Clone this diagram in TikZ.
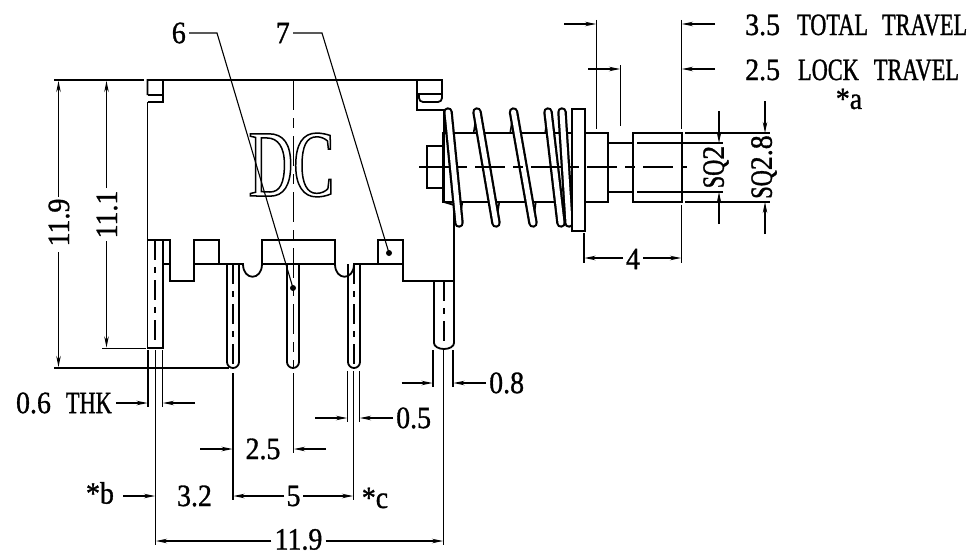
\documentclass[tikz,border=0pt]{standalone}
\usepackage{fontspec}
\usetikzlibrary{arrows.meta}
\newfontfamily\dimfont[FakeStretch=0.9,FakeBold=1]{Liberation Serif}
\newfontfamily\wordfont[FakeStretch=0.72,FakeBold=1]{Liberation Serif}
\newfontfamily\markfont[FakeStretch=0.65]{Liberation Serif}
\begin{document}
\begin{tikzpicture}[x=1pt, y=-1pt,
  part/.style = {draw, line width=1.8pt},
  thin line/.style = {draw, line width=1.1pt},
  dim/.style = {draw, line width=1.1pt, -{Stealth[length=11pt,width=4.5pt]}},
  axis/.style = {draw, line width=1.1pt, dash pattern=on 30pt off 8pt on 10pt off 8pt},
  pin axis/.style = {draw, line width=1.1pt, dash pattern=on 20pt off 7pt on 6pt off 7pt},
  label/.style = {inner sep=0pt, font=\fontsize{31}{31}\dimfont},
  coilout/.style = {draw, line width=9.5pt, line cap=round},
  coilin/.style = {draw=white, line width=5pt, line cap=round}]
\useasboundingbox (0,0) rectangle (976,551);
% body outline
\draw[part] (147.5,95) -- (147.5,80) -- (442,80) -- (442,98) arc (0:90:4) -- (423,102) arc (90:180:4) -- (419,94);
\draw[part] (147.5,95) -- (163,95) -- (163,80);
\draw[part] (147.5,102) -- (163,102) -- (163,95);
\draw[part] (417,94) -- (442,94);
\draw[part] (417,80) -- (417,110) -- (446,110);
\draw[part] (147.5,102) -- (147.5,348) -- (163,348) -- (163,240);
\draw[part] (147.5,240) -- (170,240) -- (170,281) -- (194,281) -- (194,240) -- (219,240) -- (219,264);
\draw[part] (163,264) -- (170,264);
\draw[part] (194,264) -- (243,264) .. controls (243,281) and (262,281) .. (262,264) -- (262,240) -- (335,240) -- (335,264) .. controls (335,281) and (354,281) .. (354,264) -- (378,264);
\draw[part] (262,264) -- (335,264);
\draw[part] (378,264) -- (378,240) -- (403,240) -- (403,264) -- (378,264);
\draw[part] (403,264) -- (403,281) -- (454,281);
\draw[part] (454,205) -- (454,343) arc (0:180:10 and 6) -- (434,281);
% pins
\foreach \px in {227,287,348}
  \draw[part] (\px,264) -- (\px,362) arc (180:0:6) -- ({\px+12},264);
\draw[pin axis] (155,240) -- (155,348);
\draw[pin axis] (233,264) -- (233,368);
\draw[pin axis] (354,264) -- (354,368);
\draw[pin axis] (444,281) -- (444,349);
\draw[axis] (293.5,80) -- (293.5,368);
% marking
\node[inner sep=0pt, font=\fontsize{95}{95}\markfont] (mark) at (291.5,165) {\special{pdf:code 1 Tr 1.5 w}DC\special{pdf:code 0 Tr}};
% spring, rear turns
\foreach \xa/\xb in {459/477,496/513.5,533/548}
  \draw[line width=1.6pt] (\xa,223) -- (\xb,112);
% plunger
\draw[part, fill=white] (443,133) rectangle (608,202);
\draw[part, fill=white] (427,146) rectangle (443,188);
\draw[part] (608,143) -- (633,143);
\draw[part] (608,192) -- (633,192);
\draw[part] (633,133) rectangle (682,202);
\draw[part] (444,110) -- (444,202) -- (454,205);
% spring, front turns
\foreach \xa/\xb in {448/459,477/496,513.5/533,548/561,562/569} {
  \draw[coilout] (\xa,112) -- (\xb,223);
  \draw[coilin] (\xa,112) -- (\xb,223);
}
\draw[part, fill=white] (572,109) rectangle (585,231);
\draw[axis] (419,167) -- (687,167);
% leaders
\node[label, anchor=east] (n6) at (186,33) {6};
\node[label, anchor=east] (n7) at (290,33) {7};
\coordinate (dot6) at (293,288);
\coordinate (dot7) at (389,253);
\draw[thin line] (n6.east) ++(3,0) -- (217,33) -- (dot6);
\draw[thin line] (n7.east) ++(3,0) -- (322,33) -- (dot7);
\fill (dot6) circle (3pt);
\fill (dot7) circle (3pt);
% height dimensions
\draw[thin line] (54,80) -- (144,80);
\draw[thin line] (102,348.5) -- (146,348.5);
\draw[thin line] (54,368) -- (229,368);
\node[label, rotate=90] (h119) at (59,222.5) {11.9};
\node[label, rotate=90] (h111) at (107,214.5) {11.1};
\draw[dim] (58.5,197) -- (58.5,81);
\draw[dim] (58.5,252) -- (58.5,367);
\draw[dim] (106.5,188) -- (106.5,81);
\draw[dim] (106.5,241) -- (106.5,347.5);
% pin dimensions
\draw[thin line] (148,350) -- (148,407);
\draw[thin line] (162.5,350) -- (162.5,407);
\draw[thin line] (155.5,350) -- (155.5,545);
\draw[thin line] (233,373) -- (233,500);
\draw[thin line] (293.5,373) -- (293.5,453);
\draw[thin line] (347.5,371) -- (347.5,422);
\draw[thin line] (359.5,371) -- (359.5,422);
\draw[thin line] (353.6,371) -- (353.6,500);
\draw[thin line] (433,350) -- (433,387);
\draw[thin line] (453,350) -- (453,387);
\draw[thin line] (443.7,350) -- (443.7,545);
\node[label, anchor=east] (thk) at (112,403) {0.6\hspace{15pt}{\wordfont THK}};
\draw[dim] (thk.east) ++(4,0) -- (147.5,403);
\draw[dim] (195,403) -- (163,403);
\node[label] (d25) at (263,449) {2.5};
\draw[dim] (200,449) -- (232.5,449);
\draw[dim] (326,449) -- (294,449);
\node[label, anchor=west] (d05) at (396,418) {0.5};
\draw[dim] (315,418) -- (347,418);
\draw[dim] (d05.west) ++(-3,0) -- (360,418);
\node[label, anchor=west] (d08) at (489,383) {0.8};
\draw[dim] (401.5,383) -- (432.5,383);
\draw[dim] (d08.west) ++(-3,0) -- (453.5,383);
\node[label] (db) at (100,493) {*b};
\node[label] (d32) at (194.5,496) {3.2};
\node[label] (d5) at (293.5,496) {5};
\node[label] (dc) at (375,498) {*c};
\draw[dim] (123,496) -- (155,496);
\draw[dim] (284,496) -- (233.5,496);
\draw[dim] (303,496) -- (353,496);
\node[label] (d119) at (298.5,539.5) {11.9};
\draw[dim] (d119.west) ++(-3,1.5) -- (156,541);
\draw[dim] (d119.east) ++(3,1.5) -- (443,541);
% travel dimensions
\draw[thin line] (596.5,20) -- (596.5,129);
\draw[thin line] (620.5,65) -- (620.5,126);
\draw[thin line] (681.5,20) -- (681.5,129);
\draw[thin line] (681.5,205) -- (681.5,263);
\draw[thin line] (584,233) -- (584,263);
\node[label, anchor=west] (total) at (745,25) {3.5\hspace{17pt}{\wordfont TOTAL\hspace{14pt}TRAVEL}};
\node[label, anchor=west] (lock) at (745,70) {2.5\hspace{18pt}{\wordfont LOCK\hspace{15pt}TRAVEL}};
\node[label] (stara) at (849,99) {*a};
\draw[dim] (564,24) -- (596,24);
\draw[dim] (715,24) -- (682,24);
\draw[dim] (588,69) -- (620,69);
\draw[dim] (715,69) -- (682,69);
\node[label] (d4) at (633,259) {4};
\draw[dim] (623,258) -- (584.5,258);
\draw[dim] (643,258) -- (681,258);
% square dimensions
\draw[thin line] (685,133) -- (770,133);
\draw[thin line] (685,202) -- (770,202);
\draw[thin line] (637,143) -- (723,143);
\draw[thin line] (637,192) -- (723,192);
\node[label, rotate=90] (sq2) at (716,167) {{\wordfont SQ}2};
\node[label, rotate=90] (sq28) at (764,167) {{\wordfont SQ}2.8};
\draw[dim] (719,111) -- (719,143);
\draw[dim] (719,224) -- (719,192);
\draw[dim] (765,101) -- (765,133);
\draw[dim] (765,234) -- (765,202);
\end{tikzpicture}
\end{document}
